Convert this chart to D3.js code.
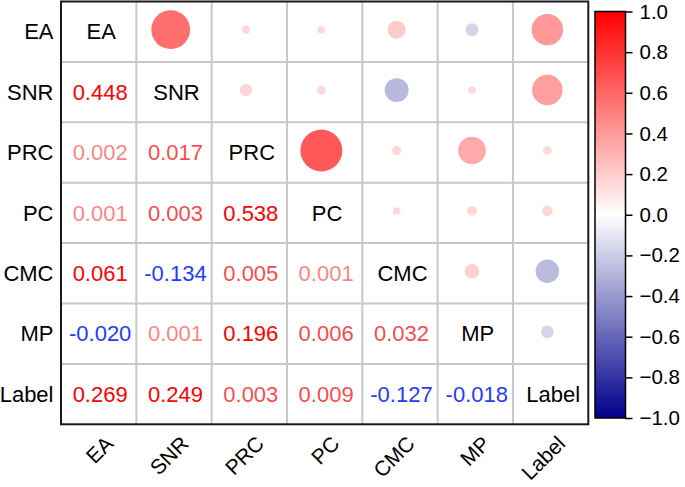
<!DOCTYPE html>
<html>
<head>
<meta charset="utf-8">
<script src="https://cdn.jsdelivr.net/npm/d3@7"></script>
<style>
  html, body { margin: 0; padding: 0; background: #fff; }
  svg { display: block; font-family: "Liberation Sans", Arial, sans-serif; }
</style>
</head>
<body>
<svg id="chart" width="685" height="487"></svg>
<script>
// ---- data ----
const labels = ["EA", "SNR", "PRC", "PC", "CMC", "MP", "Label"];
// lower triangle correlation values, row i, columns 0..i-1
const corrLower = [
  [],
  [0.448],
  [0.002, 0.017],
  [0.001, 0.003, 0.538],
  [0.061, -0.134, 0.005, 0.001],
  [-0.020, 0.001, 0.196, 0.006, 0.032],
  [0.269, 0.249, 0.003, 0.009, -0.127, -0.018]
];
const colorbarTicks = [-1.0, -0.8, -0.6, -0.4, -0.2, 0.0, 0.2, 0.4, 0.6, 0.8, 1.0];

// ---- layout ----
const W = 685, H = 487;
const plot = { left: 61, right: 588.3, top: 1.5, bottom: 424.3 };
const cbar = { left: 595, right: 625.5, top: 11.5, bottom: 418 };
const FONT = 22;
const TICKFONT = 20.5;
const XFONT = 21;

const svg = d3.select("#chart");
svg.append("rect").attr("width", W).attr("height", H).attr("fill", "#fff");

const x = d3.scaleBand().domain(labels).range([plot.left, plot.right]);
const y = d3.scaleBand().domain(labels).range([plot.top, plot.bottom]);
const cx = d => x(d) + x.bandwidth() / 2;
const cy = d => y(d) + y.bandwidth() / 2;

const cmap = d3.scaleLinear().domain([-1, 0, 1])
  .range(["#00008b", "#ffffff", "#ff0000"]).clamp(true);
const radius = d3.scaleSqrt().domain([0, 1]).range([3, 27.5]);
const circleTone = d3.scaleLinear().domain([0, 1]).range([0.15, 1.08]);
const textAlpha = d3.scaleThreshold().domain([0.0025, 0.05]).range([0.5, 0.74, 1]);

// build cells
const cells = [];
labels.forEach((rowLab, i) => {
  labels.forEach((colLab, j) => {
    if (i === j) cells.push({ type: "diag", row: rowLab, col: colLab, label: rowLab });
    else if (j < i) cells.push({ type: "num", row: rowLab, col: colLab, v: corrLower[i][j] });
    else cells.push({ type: "circ", row: rowLab, col: colLab, v: corrLower[j][i] });
  });
});

// grid lines
const g = svg.append("g");
const inner = labels.slice(1);
g.selectAll("line.v").data(inner).enter().append("line")
  .attr("x1", d => x(d)).attr("x2", d => x(d))
  .attr("y1", plot.top).attr("y2", plot.bottom)
  .attr("stroke", "#c8c8c8").attr("stroke-width", 2);
g.selectAll("line.h").data(inner).enter().append("line")
  .attr("y1", d => y(d)).attr("y2", d => y(d))
  .attr("x1", plot.left).attr("x2", plot.right)
  .attr("stroke", "#c8c8c8").attr("stroke-width", 2);

// circles (upper triangle)
g.selectAll("circle").data(cells.filter(c => c.type === "circ")).enter().append("circle")
  .attr("cx", d => cx(d.col) - 3.3)
  .attr("cy", d => cy(d.row) - 2)
  .attr("r", d => radius(Math.abs(d.v)))
  .attr("fill", d => cmap(Math.sign(d.v) * circleTone(Math.abs(d.v))));

// numbers (lower triangle)
g.selectAll("text.num").data(cells.filter(c => c.type === "num")).enter().append("text")
  .attr("x", d => cx(d.col) + 1.5)
  .attr("y", d => cy(d.row))
  .attr("dy", "0.35em")
  .attr("text-anchor", "middle")
  .attr("font-size", FONT)
  .attr("fill", d => d.v < 0 ? "rgb(35,60,255)" : "rgb(255,0,0)")
  .attr("fill-opacity", d => d.v < 0 ? 1 : textAlpha(d.v))
  .text(d => d3.format(".3f")(d.v).replace("−", "-"));

// diagonal labels
g.selectAll("text.diag").data(cells.filter(c => c.type === "diag")).enter().append("text")
  .attr("x", d => cx(d.col) + 2.5)
  .attr("y", d => cy(d.row))
  .attr("dy", "0.35em")
  .attr("text-anchor", "middle")
  .attr("font-size", FONT)
  .attr("fill", "#000")
  .text(d => d.label);

// frame
svg.append("rect")
  .attr("x", plot.left).attr("y", plot.top)
  .attr("width", plot.right - plot.left).attr("height", plot.bottom - plot.top)
  .attr("fill", "none").attr("stroke", "#1a1a1a").attr("stroke-width", 2);

// left labels
svg.selectAll("text.ylab").data(labels).enter().append("text")
  .attr("x", plot.left - 7.5)
  .attr("y", d => cy(d))
  .attr("dy", "0.35em")
  .attr("text-anchor", "end")
  .attr("font-size", FONT)
  .attr("fill", "#000")
  .text(d => d);

// bottom labels rotated
svg.selectAll("text.xlab").data(labels).enter().append("text")
  .attr("transform", d => `translate(${cx(d) + 16},${445}) rotate(-45)`)
  .attr("text-anchor", "end")
  .attr("font-size", XFONT)
  .attr("fill", "#000")
  .text(d => d);

// colorbar
const defs = svg.append("defs");
const grad = defs.append("linearGradient").attr("id", "cbgrad")
  .attr("x1", 0).attr("y1", 1).attr("x2", 0).attr("y2", 0);
d3.range(0, 1.0001, 0.05).forEach(t => {
  grad.append("stop").attr("offset", t).attr("stop-color", cmap(-1 + 2 * t));
});
svg.append("rect")
  .attr("x", cbar.left).attr("y", cbar.top)
  .attr("width", cbar.right - cbar.left).attr("height", cbar.bottom - cbar.top)
  .attr("fill", "url(#cbgrad)")
  .attr("stroke", "#000").attr("stroke-width", 1.5);

const cbScale = d3.scaleLinear().domain([-1, 1]).range([cbar.bottom, cbar.top]);
const cbAxis = svg.append("g")
  .attr("transform", `translate(${cbar.right},0)`)
  .call(d3.axisRight(cbScale).tickValues(colorbarTicks).tickSize(7).tickPadding(7)
    .tickFormat(d => d3.format(".1f")(Math.abs(d) < 1e-9 ? 0 : d)));
cbAxis.select(".domain").remove();
cbAxis.selectAll(".tick line").attr("stroke", "#000").attr("stroke-width", 1.5);
cbAxis.selectAll(".tick text")
  .attr("font-size", TICKFONT)
  .attr("font-family", "Liberation Sans, Arial, sans-serif")
  .attr("fill", "#000");
</script>
</body>
</html>
